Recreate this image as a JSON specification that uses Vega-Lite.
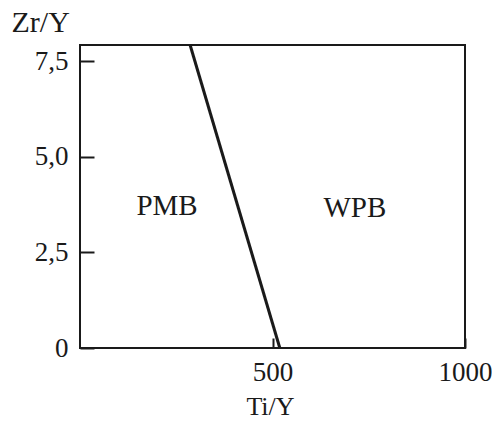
{
  "$schema": "https://vega.github.io/schema/vega-lite/v6.json",
  "width": 385,
  "height": 303,
  "autosize": "none",
  "padding": {"left": 80, "top": 45, "right": 27, "bottom": 75},
  "background": "white",
  "config": {
    "view": {"stroke": "#1a1a1a", "strokeWidth": 2},
    "font": "Liberation Serif"
  },
  "layer": [
    {
      "data": {"values": [{"ti_y": 286, "zr_y": 7.92}, {"ti_y": 519, "zr_y": 0}]},
      "mark": {"type": "line", "color": "#1a1a1a", "strokeWidth": 3},
      "encoding": {
        "x": {
          "field": "ti_y", "type": "quantitative",
          "scale": {"domain": [0, 1000], "nice": false, "zero": true},
          "axis": {
            "title": "Ti/Y", "values": [500, 1000], "grid": false, "domain": false,
            "format": "d", "labelFlush": false, "zindex": 1, "ticks": true,
            "tickSize": -10, "tickColor": "#1a1a1a", "tickWidth": 2,
            "labelFont": "Liberation Serif", "labelFontSize": 27, "labelColor": "#1a1a1a",
            "labelPadding": 21, "labelBaseline": "top",
            "titleFont": "Liberation Serif", "titleFontSize": 26, "titleFontWeight": "normal",
            "titleColor": "#1a1a1a", "titleX": 190, "titleY": 66, "titleBaseline": "alphabetic"
          }
        },
        "y": {
          "field": "zr_y", "type": "quantitative",
          "scale": {"domain": [0, 7.92], "nice": false},
          "axis": {
            "title": "Zr/Y", "values": [0, 2.5, 5, 7.5], "grid": false, "domain": false,
            "labelFlush": false, "zindex": 1, "ticks": true,
            "labelExpr": "datum.value == 0 ? '0' : replace(format(datum.value, '.1f'), '.', ',')",
            "tickSize": -14, "tickColor": "#1a1a1a", "tickWidth": 2,
            "labelFont": "Liberation Serif", "labelFontSize": 27, "labelColor": "#1a1a1a",
            "labelPadding": 26,
            "titleFont": "Liberation Serif", "titleFontSize": 30, "titleFontWeight": "normal",
            "titleColor": "#1a1a1a", "titleAngle": 0, "titleAlign": "left",
            "titleBaseline": "alphabetic", "titleX": -69, "titleY": -14
          }
        }
      }
    },
    {
      "data": {"values": [{"ti_y": 226, "zr_y": 3.7, "region": "PMB"}, {"ti_y": 714, "zr_y": 3.65, "region": "WPB"}]},
      "mark": {"type": "text", "font": "Liberation Serif", "fontSize": 29, "color": "#1a1a1a"},
      "encoding": {
        "x": {"field": "ti_y", "type": "quantitative"},
        "y": {"field": "zr_y", "type": "quantitative"},
        "text": {"field": "region"}
      }
    }
  ]
}
